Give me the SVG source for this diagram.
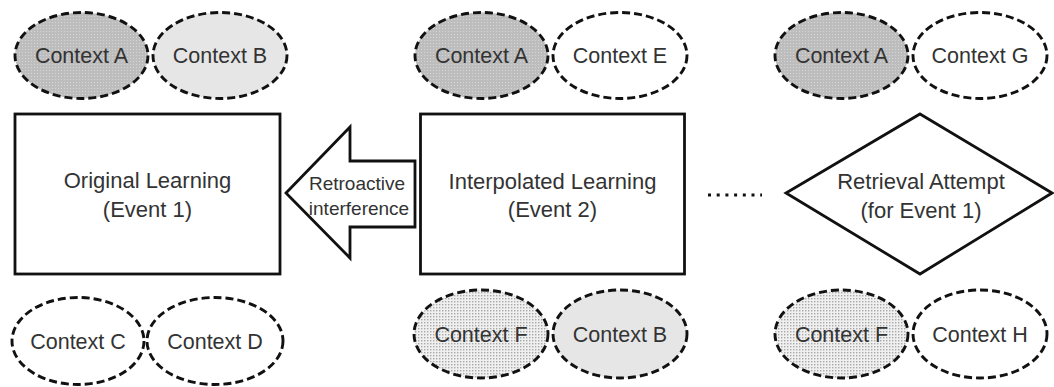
<svg xmlns="http://www.w3.org/2000/svg" width="1054" height="387" viewBox="0 0 1054 387">
  <defs>
    <pattern id="patA" width="3" height="3" patternUnits="userSpaceOnUse">
      <rect width="3" height="3" fill="#bdbdbd"/>
      <rect x="1" y="1" width="1" height="1" fill="#d6d6d6"/>
    </pattern>
    <pattern id="patF" width="3" height="3" patternUnits="userSpaceOnUse">
      <rect width="3" height="3" fill="#f0f0f0"/>
      <rect x="1" y="1" width="1.4" height="1.4" fill="#a8a8a8"/>
    </pattern>
    <style>
      .ctx { stroke: #111; stroke-width: 2.9; stroke-dasharray: 8 4; }
      .dark { fill: url(#patA); }
      .light { fill: #e6e6e6; }
      .dot { fill: url(#patF); }
      .none { fill: #fff; }
      .box { fill: #fff; stroke: #111; stroke-width: 2.8; }
      .t { font-family: "Liberation Sans", Arial, sans-serif; fill: #333; text-anchor: middle; }
      .ct { font-size: 21.5px; }
      .bt { font-size: 22px; }
      .at { font-size: 19px; }
    </style>
  </defs>

  <!-- Top contexts -->
  <g id="ctx-top-1-A"><ellipse class="ctx dark" cx="81.5" cy="55.5" rx="66.5" ry="43"/><text class="t ct" x="81.5" y="63">Context A</text></g>
  <g id="ctx-top-1-B"><ellipse class="ctx light" cx="220" cy="55.5" rx="67" ry="43"/><text class="t ct" x="220" y="63">Context B</text></g>
  <g id="ctx-top-2-A"><ellipse class="ctx dark" cx="481.5" cy="55.5" rx="66.5" ry="43"/><text class="t ct" x="481.5" y="63">Context A</text></g>
  <g id="ctx-top-2-E"><ellipse class="ctx none" cx="620" cy="55.5" rx="67" ry="43"/><text class="t ct" x="620" y="63">Context E</text></g>
  <g id="ctx-top-3-A"><ellipse class="ctx dark" cx="841.5" cy="55.5" rx="66.5" ry="43"/><text class="t ct" x="841.5" y="63">Context A</text></g>
  <g id="ctx-top-3-G"><ellipse class="ctx none" cx="980" cy="55.5" rx="67" ry="43"/><text class="t ct" x="980" y="63">Context G</text></g>

  <!-- Main nodes -->
  <g id="original-learning">
    <rect class="box" x="15" y="114" width="265" height="160"/>
    <text class="t bt" x="147.5" y="188">Original Learning</text>
    <text class="t bt" x="147.5" y="217">(Event 1)</text>
  </g>
  <g id="interpolated-learning">
    <rect class="box" x="420.5" y="114" width="264" height="160"/>
    <text class="t bt" x="552.5" y="189">Interpolated Learning</text>
    <text class="t bt" x="552.5" y="217">(Event 2)</text>
  </g>
  <g id="retrieval-attempt">
    <polygon class="box" stroke-width="2.4" points="920,114 1052,193 920,274 786,193"/>
    <text class="t bt" x="921" y="189">Retrieval Attempt</text>
    <text class="t bt" x="921" y="218">(for Event 1)</text>
  </g>

  <!-- Connectors -->
  <g id="connectors">
    <g id="retroactive-arrow">
      <polygon class="box" stroke-width="2.6" points="286,193 350,127 350,161 415,161 415,227 350,227 350,258"/>
      <text class="t at" x="357" y="190">Retroactive</text>
      <text class="t at" x="359" y="215">interference</text>
    </g>
    <line id="dotted-link" x1="708" y1="195" x2="762" y2="195" stroke="#111" stroke-width="3.2" stroke-dasharray="3 5.7"/>
  </g>

  <!-- Bottom contexts -->
  <g id="ctx-bot-1-C"><ellipse class="ctx none" cx="78" cy="341" rx="66" ry="43.5"/><text class="t ct" x="78" y="348.5">Context C</text></g>
  <g id="ctx-bot-1-D"><ellipse class="ctx none" cx="215" cy="341" rx="68" ry="43.5"/><text class="t ct" x="215" y="348.5">Context D</text></g>
  <g id="ctx-bot-2-F"><ellipse class="ctx dot" cx="481" cy="334" rx="67" ry="44"/><text class="t ct" x="481" y="341.5">Context F</text></g>
  <g id="ctx-bot-2-B"><ellipse class="ctx light" cx="620" cy="334" rx="67" ry="44"/><text class="t ct" x="620" y="341.5">Context B</text></g>
  <g id="ctx-bot-3-F"><ellipse class="ctx dot" cx="841.5" cy="334" rx="66.5" ry="44"/><text class="t ct" x="841.5" y="341.5">Context F</text></g>
  <g id="ctx-bot-3-H"><ellipse class="ctx none" cx="980" cy="334" rx="67" ry="44"/><text class="t ct" x="980" y="341.5">Context H</text></g>
</svg>
